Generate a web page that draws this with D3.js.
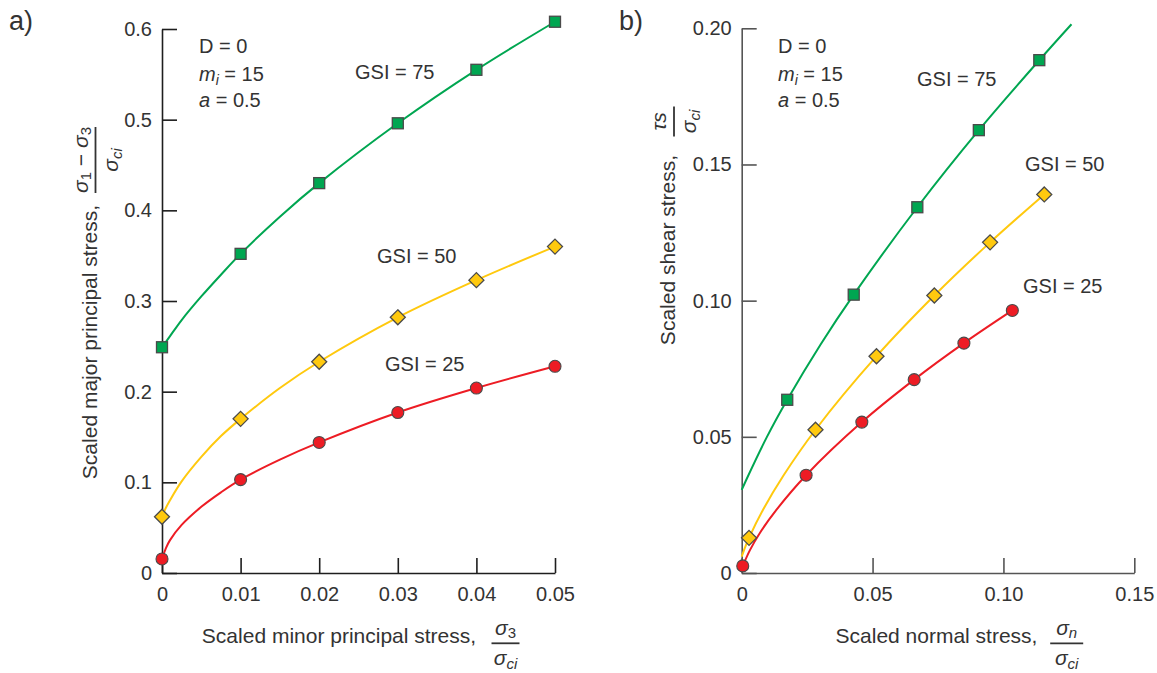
<!DOCTYPE html>
<html>
<head>
<meta charset="utf-8">
<script src="https://cdn.jsdelivr.net/npm/d3@7"></script>
<style>
  html, body { margin: 0; padding: 0; background: #fff; }
  svg { display: block; }
  text { font-family: "Liberation Sans", Arial, Helvetica, sans-serif; fill: #333; }
</style>
</head>
<body>
<svg id="chart" width="1157" height="673"></svg>
<script>
// ---------------- DATA ----------------
// Panel a) : scaled minor principal stress vs scaled major principal stress
const leftMarkerX = [0, 0.01, 0.02, 0.03, 0.04, 0.05];
const leftGSI75 = [0.249, 0.352, 0.430, 0.496, 0.555, 0.608];
const leftGSI50 = [0.062, 0.170, 0.233, 0.282, 0.323, 0.360];
const leftGSI25 = [0.0155, 0.103, 0.144, 0.177, 0.204, 0.228];
// smooth curve traces
const leftCurveX   = [0, 0.0005, 0.001, 0.0025, 0.005, 0.0075, 0.01, 0.015, 0.02, 0.03, 0.04, 0.05];
const leftCurve75  = [0.249, 0.255, 0.261, 0.279, 0.305, 0.329, 0.352, 0.393, 0.430, 0.496, 0.555, 0.608];
const leftCurve50  = [0.062, 0.072, 0.080, 0.101, 0.128, 0.151, 0.170, 0.204, 0.233, 0.282, 0.323, 0.360];
const leftCurve25  = [0.0155, 0.0275, 0.036, 0.053, 0.073, 0.089, 0.103, 0.125, 0.144, 0.177, 0.204, 0.228];

// Panel b) : scaled normal stress vs scaled shear stress
const right75X = [0.0174, 0.0428, 0.0671, 0.0906, 0.1137];
const right75Y = [0.0636, 0.1022, 0.1343, 0.1626, 0.1883];
const right50X = [0.0028, 0.0282, 0.0515, 0.0736, 0.0949, 0.1156];
const right50Y = [0.0129, 0.0526, 0.0796, 0.1019, 0.1214, 0.1390];
const right25X = [0.0004, 0.0246, 0.0459, 0.0659, 0.0849, 0.1034];
const right25Y = [0.0026, 0.0359, 0.0554, 0.0710, 0.0844, 0.0964];
// curve traces
const rightCurve75X = [0, 0.0015, 0.0095, 0.0174, 0.0302, 0.0428, 0.0671, 0.0906, 0.1137, 0.126];
const rightCurve75Y = [0.0305, 0.0337, 0.0497, 0.0636, 0.0840, 0.1022, 0.1343, 0.1626, 0.1883, 0.2015];
const rightCurve50X = [0, 0.0014, 0.0028, 0.0082, 0.0159, 0.0282, 0.0515, 0.0736, 0.0949, 0.1156];
const rightCurve50Y = [0.0060, 0.0097, 0.0129, 0.0233, 0.0357, 0.0526, 0.0796, 0.1019, 0.1214, 0.1390];
const rightCurve25X = [0.0004, 0.0032, 0.0070, 0.0131, 0.0246, 0.0459, 0.0659, 0.0849, 0.1034];
const rightCurve25Y = [0.0026, 0.0085, 0.0148, 0.0230, 0.0359, 0.0554, 0.0710, 0.0844, 0.0964];

// tick labels
const leftXTicks = [0, 0.01, 0.02, 0.03, 0.04, 0.05];
const leftXTickLabels = ["0", "0.01", "0.02", "0.03", "0.04", "0.05"];
const leftYTicks = [0, 0.1, 0.2, 0.3, 0.4, 0.5, 0.6];
const leftYTickLabels = ["0", "0.1", "0.2", "0.3", "0.4", "0.5", "0.6"];
const rightXTicks = [0, 0.05, 0.10, 0.15];
const rightXTickLabels = ["0", "0.05", "0.10", "0.15"];
const rightYTicks = [0, 0.05, 0.10, 0.15, 0.20];
const rightYTickLabels = ["0", "0.05", "0.10", "0.15", "0.20"];

const seriesNames = ["GSI = 75", "GSI = 50", "GSI = 25"];

// ---------------- STYLE ----------------
const COLORS = { g75: "#00a651", g50: "#ffc90e", g25: "#ed1c24" };
const MARKER_STROKE = "#4a4a4a";
const FS = 20;
const TFS = 21;

const svg = d3.select("#chart");

function zip(xs, ys) { return xs.map((x, i) => ({ x, y: ys[i] })); }

function drawPanel(cfg) {
  const g = svg.append("g");
  const x = d3.scaleLinear().domain(cfg.xDomain).range([cfg.left, cfg.right]);
  const y = d3.scaleLinear().domain(cfg.yDomain).range([cfg.bottom, cfg.top]);

  const xAxis = d3.axisBottom(x).tickValues(cfg.xTicks)
    .tickFormat((d, i) => cfg.xTickLabels[i]).tickSizeInner(-15).tickSizeOuter(0).tickPadding(14);
  const yAxis = d3.axisLeft(y).tickValues(cfg.yTicks)
    .tickFormat((d, i) => cfg.yTickLabels[i]).tickSizeInner(-15).tickSizeOuter(0).tickPadding(10);

  const gx = g.append("g").attr("transform", `translate(0,${cfg.bottom})`).call(xAxis);
  const gy = g.append("g").attr("transform", `translate(${cfg.left},0)`).call(yAxis);
  [gx, gy].forEach(a => {
    a.selectAll("path.domain").attr("stroke", cfg.axisColor).attr("stroke-width", 1.6);
    a.selectAll(".tick line").attr("stroke", cfg.axisColor).attr("stroke-width", 1.6);
    a.selectAll(".tick text").attr("fill", "#2b2b2b").style("font-size", FS + "px")
      .style("font-family", '"Liberation Sans", Arial, Helvetica, sans-serif');
  });

  const line = d3.line().x(d => x(d.x)).y(d => y(d.y)).curve(d3.curveCatmullRom.alpha(0.5));

  cfg.series.forEach(s => {
    g.append("path").datum(zip(s.cx, s.cy))
      .attr("d", line).attr("fill", "none").attr("stroke", s.color).attr("stroke-width", 2);
  });

  cfg.series.forEach(s => {
    const pts = zip(s.mx, s.my);
    const mg = g.append("g");
    if (s.shape === "square") {
      mg.selectAll("rect").data(pts).join("rect")
        .attr("x", d => x(d.x) - 5.5).attr("y", d => y(d.y) - 5.5)
        .attr("width", 11).attr("height", 11)
        .attr("fill", s.color).attr("stroke", MARKER_STROKE).attr("stroke-width", 1.3);
    } else if (s.shape === "diamond") {
      mg.selectAll("path").data(pts).join("path")
        .attr("d", d => { const cx = x(d.x), cy = y(d.y), r = 7.5;
          return `M${cx},${cy - r}L${cx + r},${cy}L${cx},${cy + r}L${cx - r},${cy}Z`; })
        .attr("fill", s.color).attr("stroke", MARKER_STROKE).attr("stroke-width", 1.3);
    } else {
      mg.selectAll("circle").data(pts).join("circle")
        .attr("cx", d => x(d.x)).attr("cy", d => y(d.y)).attr("r", 6)
        .attr("fill", s.color).attr("stroke", MARKER_STROKE).attr("stroke-width", 1.1);
    }
  });

  cfg.labels.forEach(l => {
    g.append("text").attr("x", l.x).attr("y", l.y).style("font-size", FS + "px").text(l.text);
  });

  const px = cfg.paramX;
  g.append("text").attr("x", px).attr("y", 53).style("font-size", FS + "px").text("D = 0");
  const t2 = g.append("text").attr("x", px).attr("y", 81).style("font-size", FS + "px");
  t2.append("tspan").style("font-style", "italic").text("m");
  t2.append("tspan").style("font-style", "italic").style("font-size", "14px").attr("dy", 4).text("i");
  t2.append("tspan").attr("dy", -4).text(" = 15");
  const t3 = g.append("text").attr("x", px).attr("y", 107).style("font-size", FS + "px");
  t3.append("tspan").style("font-style", "italic").text("a");
  t3.append("tspan").text(" = 0.5");

  return g;
}

// fraction helper: parts = [{t, italic, sub}]
function addParts(textSel, parts, subShift) {
  let shifted = false;
  parts.forEach(p => {
    const ts = textSel.append("tspan").text(p.t);
    if (p.italic) ts.style("font-style", "italic");
    if (p.sub) {
      ts.style("font-size", "15px");
      if (!shifted) { ts.attr("dy", subShift); shifted = true; }
    } else if (shifted) { ts.attr("dy", -subShift); shifted = false; }
  });
}
function fraction(cx, cy, width, rotate, num, den) {
  const g = svg.append("g").attr("transform", `translate(${cx},${cy}) rotate(${rotate})`);
  g.append("line").attr("x1", -width / 2).attr("x2", width / 2).attr("y1", 0).attr("y2", 0)
    .attr("stroke", "#333").attr("stroke-width", 1.8);
  const n = g.append("text").attr("x", 0).attr("y", -8).attr("text-anchor", "middle").style("font-size", TFS + "px");
  addParts(n, num, 3);
  const d = g.append("text").attr("x", 0).attr("y", 22).attr("text-anchor", "middle").style("font-size", TFS + "px");
  addParts(d, den, 4);
}
const sigmaCi = [{ t: "σ", italic: true }, { t: "ci", italic: true, sub: true }];

// ---------------- PANEL A ----------------
drawPanel({
  left: 162, right: 555, top: 29, bottom: 573,
  xDomain: [0, 0.05], yDomain: [0, 0.6],
  xTicks: leftXTicks, xTickLabels: leftXTickLabels,
  yTicks: leftYTicks, yTickLabels: leftYTickLabels,
  axisColor: "#1e1e1e",
  series: [
    { mx: leftMarkerX, my: leftGSI75, cx: leftCurveX, cy: leftCurve75, color: COLORS.g75, shape: "square" },
    { mx: leftMarkerX, my: leftGSI50, cx: leftCurveX, cy: leftCurve50, color: COLORS.g50, shape: "diamond" },
    { mx: leftMarkerX, my: leftGSI25, cx: leftCurveX, cy: leftCurve25, color: COLORS.g25, shape: "circle" }
  ],
  labels: [
    { text: seriesNames[0], x: 355, y: 79 },
    { text: seriesNames[1], x: 377, y: 263 },
    { text: seriesNames[2], x: 385, y: 371 }
  ],
  paramX: 199
});

// ---------------- PANEL B ----------------
drawPanel({
  left: 741.7, right: 1134.3, top: 28.3, bottom: 573,
  xDomain: [0, 0.15], yDomain: [0, 0.20],
  xTicks: rightXTicks, xTickLabels: rightXTickLabels,
  yTicks: rightYTicks, yTickLabels: rightYTickLabels,
  axisColor: "#555",
  series: [
    { mx: right75X, my: right75Y, cx: rightCurve75X, cy: rightCurve75Y, color: COLORS.g75, shape: "square" },
    { mx: right50X, my: right50Y, cx: rightCurve50X, cy: rightCurve50Y, color: COLORS.g50, shape: "diamond" },
    { mx: right25X, my: right25Y, cx: rightCurve25X, cy: rightCurve25Y, color: COLORS.g25, shape: "circle" }
  ],
  labels: [
    { text: seriesNames[0], x: 917, y: 86 },
    { text: seriesNames[1], x: 1025, y: 171 },
    { text: seriesNames[2], x: 1023, y: 293 }
  ],
  paramX: 778
});

// ---------------- AXIS TITLES ----------------
svg.append("text").attr("x", 339).attr("y", 643).attr("text-anchor", "middle")
  .style("font-size", TFS + "px").text("Scaled minor principal stress,");
fraction(505.5, 643.3, 28, 0, [{ t: "σ", italic: true }, { t: "3", sub: true }], sigmaCi);

svg.append("text").attr("transform", "translate(97,342) rotate(-90)").attr("text-anchor", "middle")
  .style("font-size", TFS + "px").text("Scaled major principal stress,");
fraction(95.5, 160, 66, -90,
  [{ t: "σ", italic: true }, { t: "1", sub: true }, { t: " − " }, { t: "σ", italic: true }, { t: "3", sub: true }],
  sigmaCi);

svg.append("text").attr("x", 936.5).attr("y", 643).attr("text-anchor", "middle")
  .style("font-size", TFS + "px").text("Scaled normal stress,");
fraction(1066.7, 643.3, 33, 0, [{ t: "σ", italic: true }, { t: "n", italic: true, sub: true }], sigmaCi);

svg.append("text").attr("transform", "translate(675,250) rotate(-90)").attr("text-anchor", "middle")
  .style("font-size", TFS + "px").text("Scaled shear stress,");
fraction(674, 121.4, 30, -90, [{ t: "τ", italic: true }, { t: "s", italic: true }], sigmaCi);

// panel labels
svg.append("text").attr("x", 9).attr("y", 30).style("font-size", "27px").text("a)");
svg.append("text").attr("x", 619).attr("y", 30).style("font-size", "27px").text("b)");
</script>
</body>
</html>
